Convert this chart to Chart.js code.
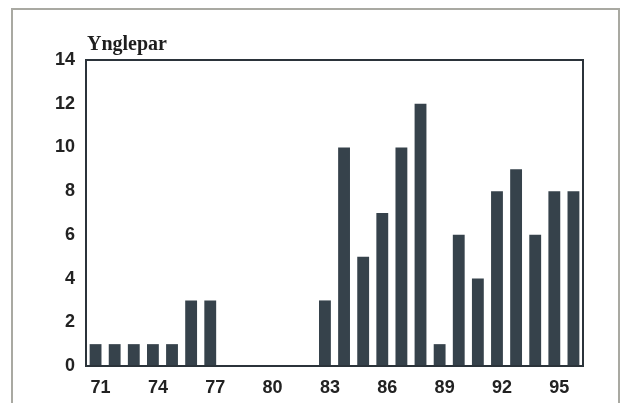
<!DOCTYPE html>
<html>
<head>
<meta charset="utf-8">
<script src="https://cdn.jsdelivr.net/npm/chart.js@4/dist/chart.umd.min.js"></script>
<style>
  html, body { margin: 0; padding: 0; background: #ffffff; }
  #wrap { position: relative; width: 622px; height: 403px; }
</style>
</head>
<body>
<div id="wrap"><canvas id="c" width="622" height="403"></canvas></div>
<script>
// Years 1971–1996
const years = ['71','72','73','74','75','76','77','78','79','80','81','82','83',
               '84','85','86','87','88','89','90','91','92','93','94','95','96'];
// Breeding pairs (Ynglepar)
const pairs = [1,1,1,1,1,3,3,0,0,0,0,0,3,10,5,7,10,12,1,6,4,8,9,6,8,8];
// Shown x tick labels
const xTickLabels = ['71','74','77','80','83','86','89','92','95'];
const yTicks = [0,2,4,6,8,10,12,14];
const yTitle = 'Ynglepar';

const framePlugin = {
  id: 'framePlugin',
  beforeDraw(chart) {
    const ctx = chart.ctx;
    ctx.save();
    ctx.fillStyle = '#ffffff';
    ctx.fillRect(0, 0, chart.width, chart.height);
    ctx.strokeStyle = '#a9a9a2';
    ctx.lineWidth = 2;
    ctx.strokeRect(12, 9, 607, 410);
    ctx.restore();
  },
  afterDraw(chart) {
    const a = chart.chartArea;
    const ctx = chart.ctx;
    ctx.save();
    ctx.strokeStyle = '#2b333a';
    ctx.lineWidth = 2;
    ctx.strokeRect(a.left, a.top, a.right - a.left, a.bottom - a.top);
    ctx.fillStyle = '#1e1e1e';
    ctx.font = 'bold 20px "Liberation Serif", "Times New Roman", serif';
    ctx.textBaseline = 'alphabetic';
    ctx.textAlign = 'left';
    ctx.fillText(yTitle, a.left + 1, a.top - 10);
    ctx.restore();
  }
};

new Chart(document.getElementById('c'), {
  type: 'bar',
  data: {
    labels: years,
    datasets: [{
      data: pairs,
      backgroundColor: '#36424b',
      borderWidth: 0,
      barPercentage: 0.62,
      categoryPercentage: 1.0
    }]
  },
  options: {
    responsive: false,
    animation: false,
    devicePixelRatio: 1,
    layout: { padding: { left: 0, right: 39, top: 60, bottom: 0 } },
    plugins: { legend: { display: false }, tooltip: { enabled: false }, title: { display: false } },
    scales: {
      x: {
        grid: { display: false, drawTicks: false },
        border: { display: false },
        afterFit(s) { s.height = 37; },
        ticks: {
          autoSkip: false,
          maxRotation: 0,
          padding: 11,
          labelOffset: 5,
          color: '#222222',
          font: { family: '"Liberation Sans", Arial, sans-serif', size: 18, weight: 'bold' },
          callback(v, i) {
            const lab = years[i];
            return xTickLabels.includes(lab) ? lab : '';
          }
        }
      },
      y: {
        min: 0,
        max: 14,
        afterFit(s) { s.width = 86; },
        afterBuildTicks(s) { s.ticks = yTicks.map(v => ({ value: v })); },
        grid: { display: false, drawTicks: false },
        border: { display: false },
        ticks: {
          padding: 11,
          color: '#222222',
          font: { family: '"Liberation Sans", Arial, sans-serif', size: 18, weight: 'bold' }
        }
      }
    }
  },
  plugins: [framePlugin]
});
</script>
</body>
</html>
